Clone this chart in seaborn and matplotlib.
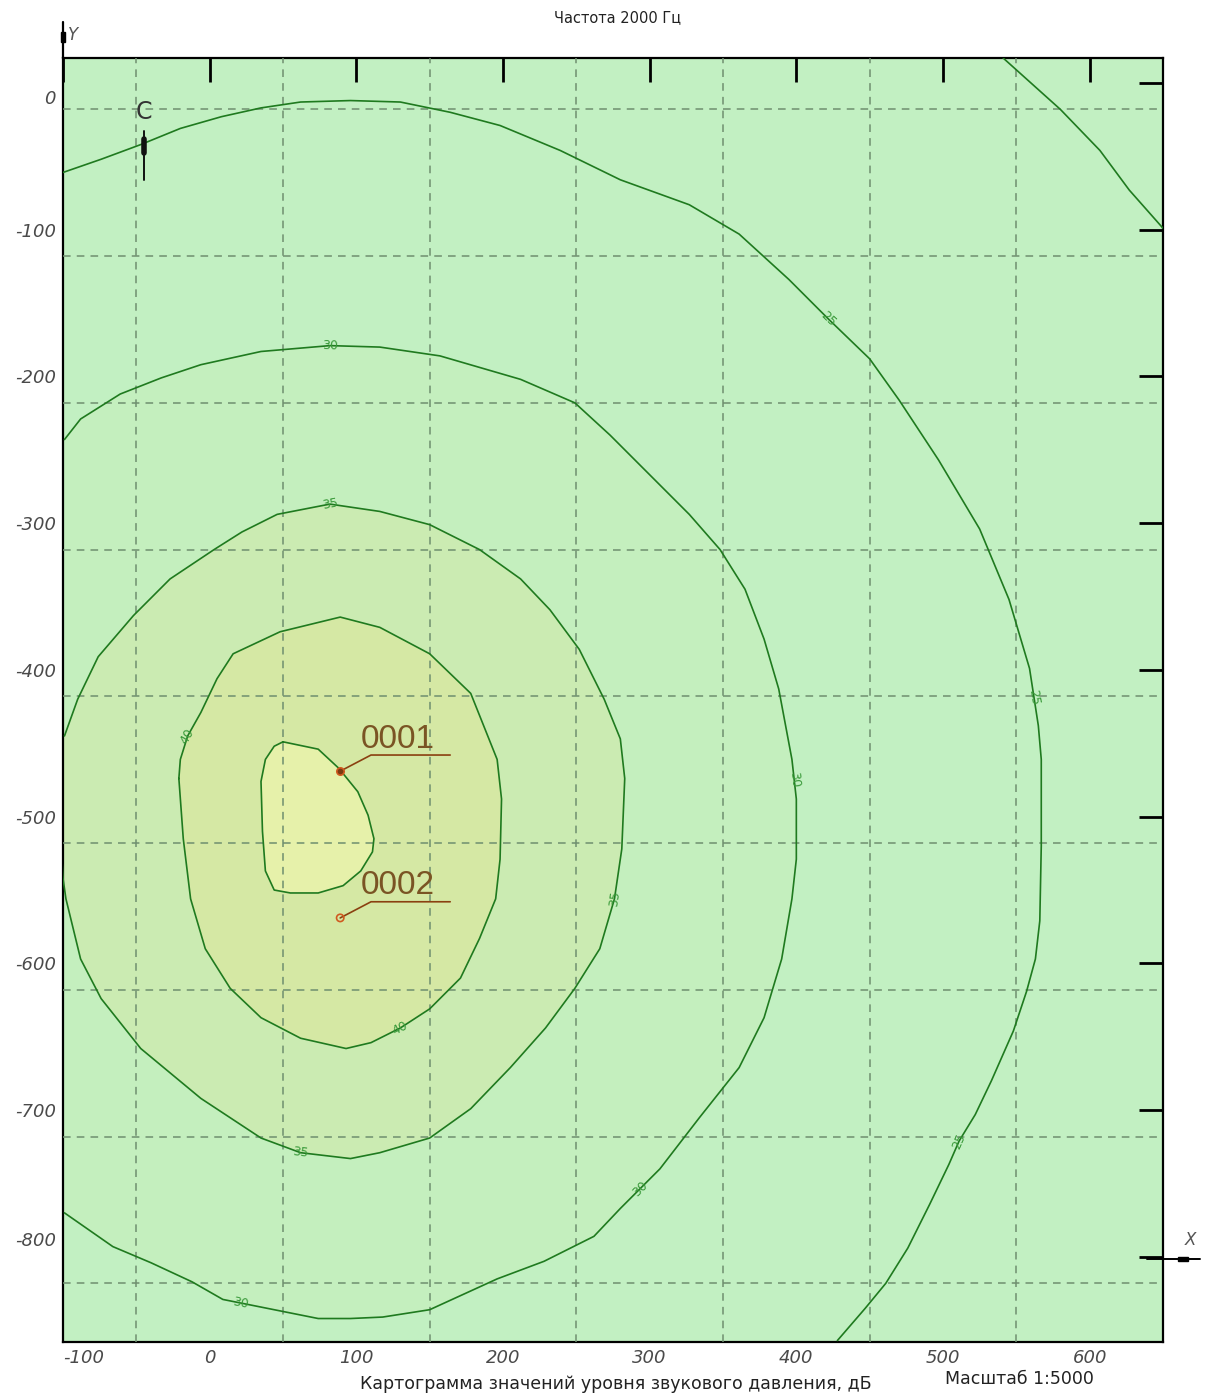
import numpy as np
import pandas as pd
import matplotlib
matplotlib.use('Agg')
import matplotlib.pyplot as plt
import matplotlib.transforms as mtransforms
from matplotlib.lines import Line2D
from matplotlib.patches import Rectangle
import seaborn as sns

lvl20_x = [541, 580, 607, 627, 650]
lvl20_y = [17, -18, -46, -73, -99]

lvl25_x = [-100, -74, -47, -20, 8, 35, 62, 96, 130, 164, 198, 239, 280, 327, 361, 395,
           422, 450, 470, 497, 525, 545, 559, 565, 567, 567, 566, 563, 557, 548, 533, 522,
           511, 504, 491, 476, 461, 447, 428]
lvl25_y = [-61, -52, -42, -31, -23, -17, -13, -12, -13, -20, -29, -46, -66, -83, -103, -134,
           -161, -188, -216, -257, -304, -352, -399, -438, -461, -520, -571, -597, -619, -646,
           -680, -703, -721, -737, -764, -794, -818, -835, -857]

lvl30_x = [-99, -88, -61, -33, -6, 35, 82, 116, 157, 212, 249, 273, 300, 327, 348, 365,
           378, 388, 397, 400, 400, 397, 390, 378, 361, 334, 307, 280, 262, 228, 196, 150,
           118, 96, 74, 49, 9, -12, -40, -66, -99]
lvl30_y = [-243, -229, -212, -201, -192, -183, -179, -180, -186, -202, -218, -240, -267,
           -294, -318, -345, -379, -413, -461, -488, -529, -556, -597, -637, -671, -705,
           -740, -767, -786, -803, -815, -836, -841, -842, -842, -837, -829, -817, -804,
           -793, -770]

lvl35_x = [-103, -100, -98, -88, -74, -47, -6, 35, 62, 96, 116, 150, 178, 205, 229, 249,
           266, 276, 281, 283, 280, 269, 252, 232, 212, 184, 150, 116, 82, 46, 22, 3, -27,
           -52, -76, -90, -99]
lvl35_y = [-488, -542, -556, -597, -624, -658, -692, -719, -729, -733, -729, -719, -699,
           -671, -644, -617, -590, -556, -522, -474, -447, -420, -386, -359, -338, -318,
           -301, -292, -287, -294, -306, -318, -338, -363, -391, -420, -445]

lvl40_x = [-21, -20, -15, -6, 5, 16, 48, 89, 116, 150, 178, 196, 199, 198, 195, 184, 171,
           150, 130, 110, 93, 62, 35, 14, -3, -13, -18]
lvl40_y = [-474, -461, -445, -429, -406, -389, -374, -364, -371, -389, -416, -461, -488,
           -529, -556, -583, -610, -631, -644, -654, -658, -651, -637, -617, -590, -556, -515]

lvl45_x = [50, 74, 88, 101, 108, 112, 111, 103, 91, 74, 55, 44, 38, 36, 35, 38, 44]
lvl45_y = [-449, -454, -467, -483, -499, -515, -524, -537, -547, -552, -552, -550, -537,
           -510, -476, -461, -452]

# where the level numbers sit along each isoline (vertex index)
label_at = {25: [16, 22.5, 32], 30: [6, 18.5, 26.5, 35.7], 35: [8, 17, 28], 40: [2, 18]}

# noise sources
src_names = ['0001', '0002']
src_x = [89, 89]
src_y = [-469, -569]

x_ticks = [-100, 0, 100, 200, 300, 400, 500, 600]
y_ticks = [0, -100, -200, -300, -400, -500, -600, -700, -800]
grid_x = [-50, 50, 150, 250, 350, 450, 550]
grid_y = [-18, -118, -218, -318, -418, -518, -618, -718, -818]

lines = {20: (lvl20_x, lvl20_y), 25: (lvl25_x, lvl25_y), 30: (lvl30_x, lvl30_y),
         35: (lvl35_x, lvl35_y), 40: (lvl40_x, lvl40_y), 45: (lvl45_x, lvl45_y)}
closed = {40, 45}
fill_colors = {30: '#c4efbe', 35: '#cbebb2', 40: '#d5e8a4', 45: '#e6f1aa'}

sns.set_style('white')
plt.rcParams['font.family'] = ['DejaVu Sans']

W, H = 1210, 1394
fig = plt.figure(figsize=(W / 100, H / 100), dpi=100)
ax = fig.add_axes([63 / W, 1 - 1342 / H, 1100 / W, 1284 / H])
ax.set_xlim(-100, 650)
ax.set_ylim(-858, 17)
ax.set_facecolor('#c2f0c2')

# filled zones
for lv, col in fill_colors.items():
    xs, ys = lines[lv]
    ax.fill(xs, ys, color=col, lw=0, zorder=1)

# dashed grid
ax.set_xticks(grid_x, minor=True)
ax.set_yticks(grid_y, minor=True)
ax.grid(which='minor', ls=(0, (5, 4)), color='#6f8f6f', lw=1.1, zorder=2)
ax.grid(which='major', visible=False)
ax.set_axisbelow(False)

# isolines
rows = []
for lv, (xs, ys) in lines.items():
    xx, yy = list(xs), list(ys)
    if lv in closed:
        xx, yy = xx + [xx[0]], yy + [yy[0]]
    for i, (a, b) in enumerate(zip(xx, yy)):
        rows.append({'level': lv, 'order': i, 'x': a, 'y': b})
df = pd.DataFrame(rows)
sns.lineplot(data=df, x='x', y='y', units='level', estimator=None, sort=False,
             color='#1f7a1f', lw=1.2, ax=ax, zorder=3)

for lv, idxs in label_at.items():
    xs, ys = lines[lv]
    for t in idxs:
        i = int(t)
        f = t - i
        px = xs[i] + f * (xs[i + 1] - xs[i])
        py = ys[i] + f * (ys[i + 1] - ys[i])
        ang = np.degrees(np.arctan2(ys[i + 1] - ys[i], xs[i + 1] - xs[i]))
        if ang > 90:
            ang -= 180
        elif ang < -90:
            ang += 180
        ax.text(px, py, str(lv), fontsize=9, color='#3a9a3a', rotation=ang,
                rotation_mode='anchor', ha='center', va='center', zorder=4)

# sources
sns.scatterplot(x=src_x[:1], y=src_y[:1], s=28, color='#7a3a10', edgecolor='#d05a20',
                linewidth=1.2, ax=ax, zorder=6)
sns.scatterplot(x=src_x[1:], y=src_y[1:], s=28, facecolor='none', edgecolor='#d05a20',
                linewidth=1.2, ax=ax, zorder=6)
for name, sx, sy in zip(src_names, src_x, src_y):
    ax.plot([sx, sx + 21, sx + 75], [sy, sy + 11, sy + 11], color='#8a4010', lw=1.2, zorder=5)
    ax.text(sx + 14, sy + 16, name, fontsize=24, family='Liberation Sans',
            color='#7a5424', ha='left', va='baseline', zorder=5)

# north arrow
ax.text(-45, -20, 'С', fontsize=17, color='#333333', ha='center', va='center', zorder=5)
ax.plot([-45, -45], [-33, -66], color='#111111', lw=1.4, zorder=5)
ax.plot([-45, -45], [-38, -48], color='#111111', lw=4, zorder=5)

# axes and ticks
ax.set_xticks(x_ticks, labels=[str(v) for v in x_ticks])
ax.set_yticks(y_ticks, labels=[str(v) for v in y_ticks])
ax.tick_params(which='major', direction='in', length=17, width=2, color='black',
               top=True, right=True, labelsize=13, labelcolor='#4a4a4a', pad=5)
ax.tick_params(which='minor', length=0)
for lab in ax.get_xticklabels() + ax.get_yticklabels():
    lab.set_fontstyle('italic')
ax.get_xticklabels()[0].set_ha('left')
yl = ax.get_yticklabels()
yl[0].set_transform(yl[0].get_transform() +
                    mtransforms.ScaledTranslation(0, -0.14, fig.dpi_scale_trans))
yl[-1].set_transform(yl[-1].get_transform() +
                     mtransforms.ScaledTranslation(0, 0.18, fig.dpi_scale_trans))
for sp in ax.spines.values():
    sp.set_visible(True)
    sp.set_color('black')
    sp.set_linewidth(1.6)
ax.set_xlabel('')
ax.set_ylabel('')


def fx(px):
    return px / W


def fy(py):
    return 1 - py / H


# coordinate axis marks
fig.add_artist(Line2D([fx(63), fx(63)], [fy(58), fy(22)], color='black', lw=1.6))
fig.add_artist(Rectangle((fx(61), fy(42)), 4 / W, 10 / H, color='black'))
fig.text(fx(68), fy(35), 'Y', fontsize=12, style='italic', color='#555555', va='center')
fig.add_artist(Line2D([fx(1147), fx(1200)], [fy(1259), fy(1259)], color='black', lw=1.4))
fig.add_artist(Rectangle((fx(1178), fy(1261)), 10 / W, 4 / H, color='black'))
fig.text(fx(1190), fy(1240), 'X', fontsize=12, style='italic', color='#555555',
         ha='center', va='center')

fig.text(fx(617), fy(18), 'Частота 2000 Гц', fontsize=10.5, ha='center', va='center',
         color='#222222')
fig.text(fx(1019), fy(1384), 'Масштаб 1:5000', fontsize=12.5, ha='center',
         va='baseline', color='#222222')
fig.text(fx(616), fy(1393), 'Картограмма значений уровня звукового давления, дБ',
         fontsize=12.5, ha='center', va='bottom', color='#222222')

fig.savefig('out.png', dpi=100)
